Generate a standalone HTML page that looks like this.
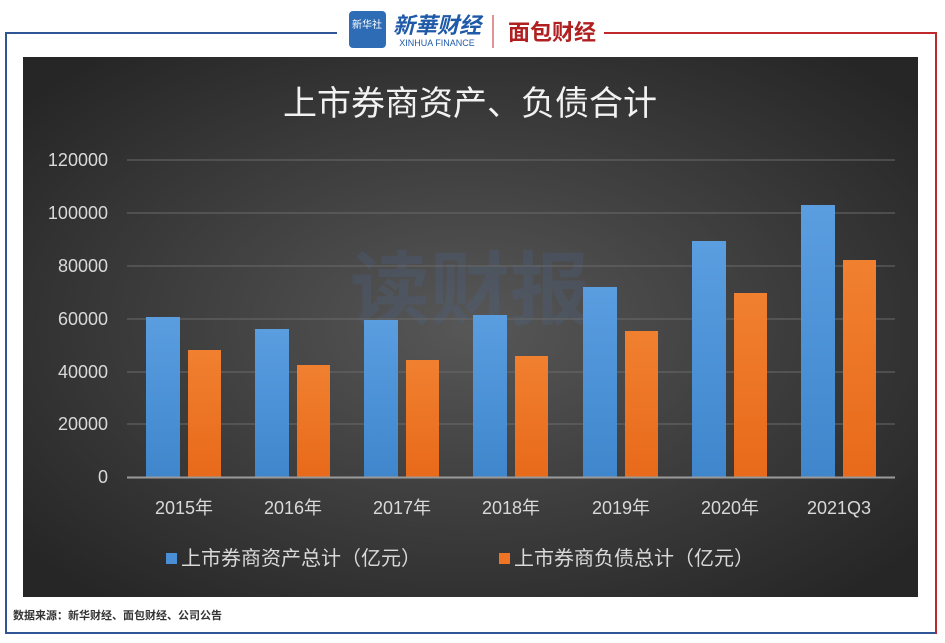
<!DOCTYPE html>
<html><head><meta charset="utf-8"><style>
body{margin:0;width:945px;height:643px;background:#fff;position:relative;overflow:hidden;font-family:"Liberation Sans","Noto Sans CJK SC",sans-serif}
</style></head><body>
<svg width="945" height="643" style="position:absolute;left:0;top:0" font-family="Liberation Sans, Noto Sans CJK SC, sans-serif">
<defs>
<radialGradient id="bg" cx="50%" cy="50%" r="65%">
<stop offset="0" stop-color="#575757"/><stop offset="1" stop-color="#262626"/></radialGradient>
<linearGradient id="bl" x1="0" y1="0" x2="0" y2="1"><stop offset="0" stop-color="#5a9ee0"/><stop offset="1" stop-color="#3f86cc"/></linearGradient>
<linearGradient id="or" x1="0" y1="0" x2="0" y2="1"><stop offset="0" stop-color="#f08030"/><stop offset="1" stop-color="#e86a1a"/></linearGradient>
</defs>
<path d="M337 33 H6 V633 H470" stroke="#2f5597" stroke-width="2" fill="none"/>
<path d="M604 33 H936 V633 H470" stroke="#c0282c" stroke-width="2" fill="none"/>
<line x1="6" y1="633" x2="936" y2="633" stroke="#2f5597" stroke-width="2"/>
<rect x="349" y="11" width="37" height="37" rx="4" fill="#2e6db5"/>
<text x="367" y="28" font-size="10" fill="#fff" text-anchor="middle">新华社</text>
<text x="437" y="33" font-size="22" fill="#1f5aa8" text-anchor="middle" font-style="italic" font-weight="bold">新華财经</text>
<text x="437" y="46" font-size="9" fill="#1f5aa8" text-anchor="middle">XINHUA FINANCE</text>
<line x1="493" y1="15" x2="493" y2="48" stroke="#c0282c"/>
<text x="552" y="40" font-size="22" fill="#b02020" text-anchor="middle" font-weight="bold">面包财经</text>
<rect x="23" y="57" width="895" height="540" fill="url(#bg)"/>
<text x="470" y="115" font-size="34" fill="#f2f2f2" text-anchor="middle">上市券商资产、负债合计</text>
<text x="470" y="318" font-size="80" fill="#4a6a9a" opacity="0.22" text-anchor="middle" font-weight="bold">读财报</text>
<g stroke="#6a6a6a" stroke-width="1">
<line x1="127" x2="895" y1="160" y2="160"/><line x1="127" x2="895" y1="213" y2="213"/>
<line x1="127" x2="895" y1="266" y2="266"/><line x1="127" x2="895" y1="319" y2="319"/>
<line x1="127" x2="895" y1="372" y2="372"/><line x1="127" x2="895" y1="424" y2="424"/>
</g>
<g font-size="18" fill="#d9d9d9" text-anchor="end">
<text x="108" y="166">120000</text><text x="108" y="219">100000</text><text x="108" y="272">80000</text>
<text x="108" y="325">60000</text><text x="108" y="378">40000</text><text x="108" y="430">20000</text><text x="108" y="483">0</text>
</g>
<g fill="url(#bl)">
<rect x="146" y="317" width="34" height="160"/><rect x="255" y="329" width="34" height="148"/>
<rect x="364" y="320" width="34" height="157"/><rect x="473" y="315" width="34" height="162"/>
<rect x="583" y="287" width="34" height="190"/><rect x="692" y="241" width="34" height="236"/>
<rect x="801" y="205" width="34" height="272"/>
</g>
<g fill="url(#or)">
<rect x="188" y="350" width="33" height="127"/><rect x="297" y="365" width="33" height="112"/>
<rect x="406" y="360" width="33" height="117"/><rect x="515" y="356" width="33" height="121"/>
<rect x="625" y="331" width="33" height="146"/><rect x="734" y="293" width="33" height="184"/>
<rect x="843" y="260" width="33" height="217"/>
</g>
<line x1="127" x2="895" y1="477.5" y2="477.5" stroke="#9a9a9a" stroke-width="2"/>
<g font-size="18" fill="#d9d9d9" text-anchor="middle">
<text x="184" y="514">2015年</text><text x="293" y="514">2016年</text><text x="402" y="514">2017年</text>
<text x="511" y="514">2018年</text><text x="621" y="514">2019年</text><text x="730" y="514">2020年</text>
<text x="839" y="514">2021Q3</text>
</g>
<rect x="166" y="553" width="11" height="11" fill="#4a8fd6"/>
<text x="181" y="565" font-size="20" fill="#d9d9d9">上市券商资产总计（亿元）</text>
<rect x="499" y="553" width="11" height="11" fill="#ef7424"/>
<text x="514" y="565" font-size="20" fill="#d9d9d9">上市券商负债总计（亿元）</text>
<text x="13" y="619" font-size="11" fill="#333" font-weight="bold">数据来源：新华财经、面包财经、公司公告</text>
</svg>
</body></html>
